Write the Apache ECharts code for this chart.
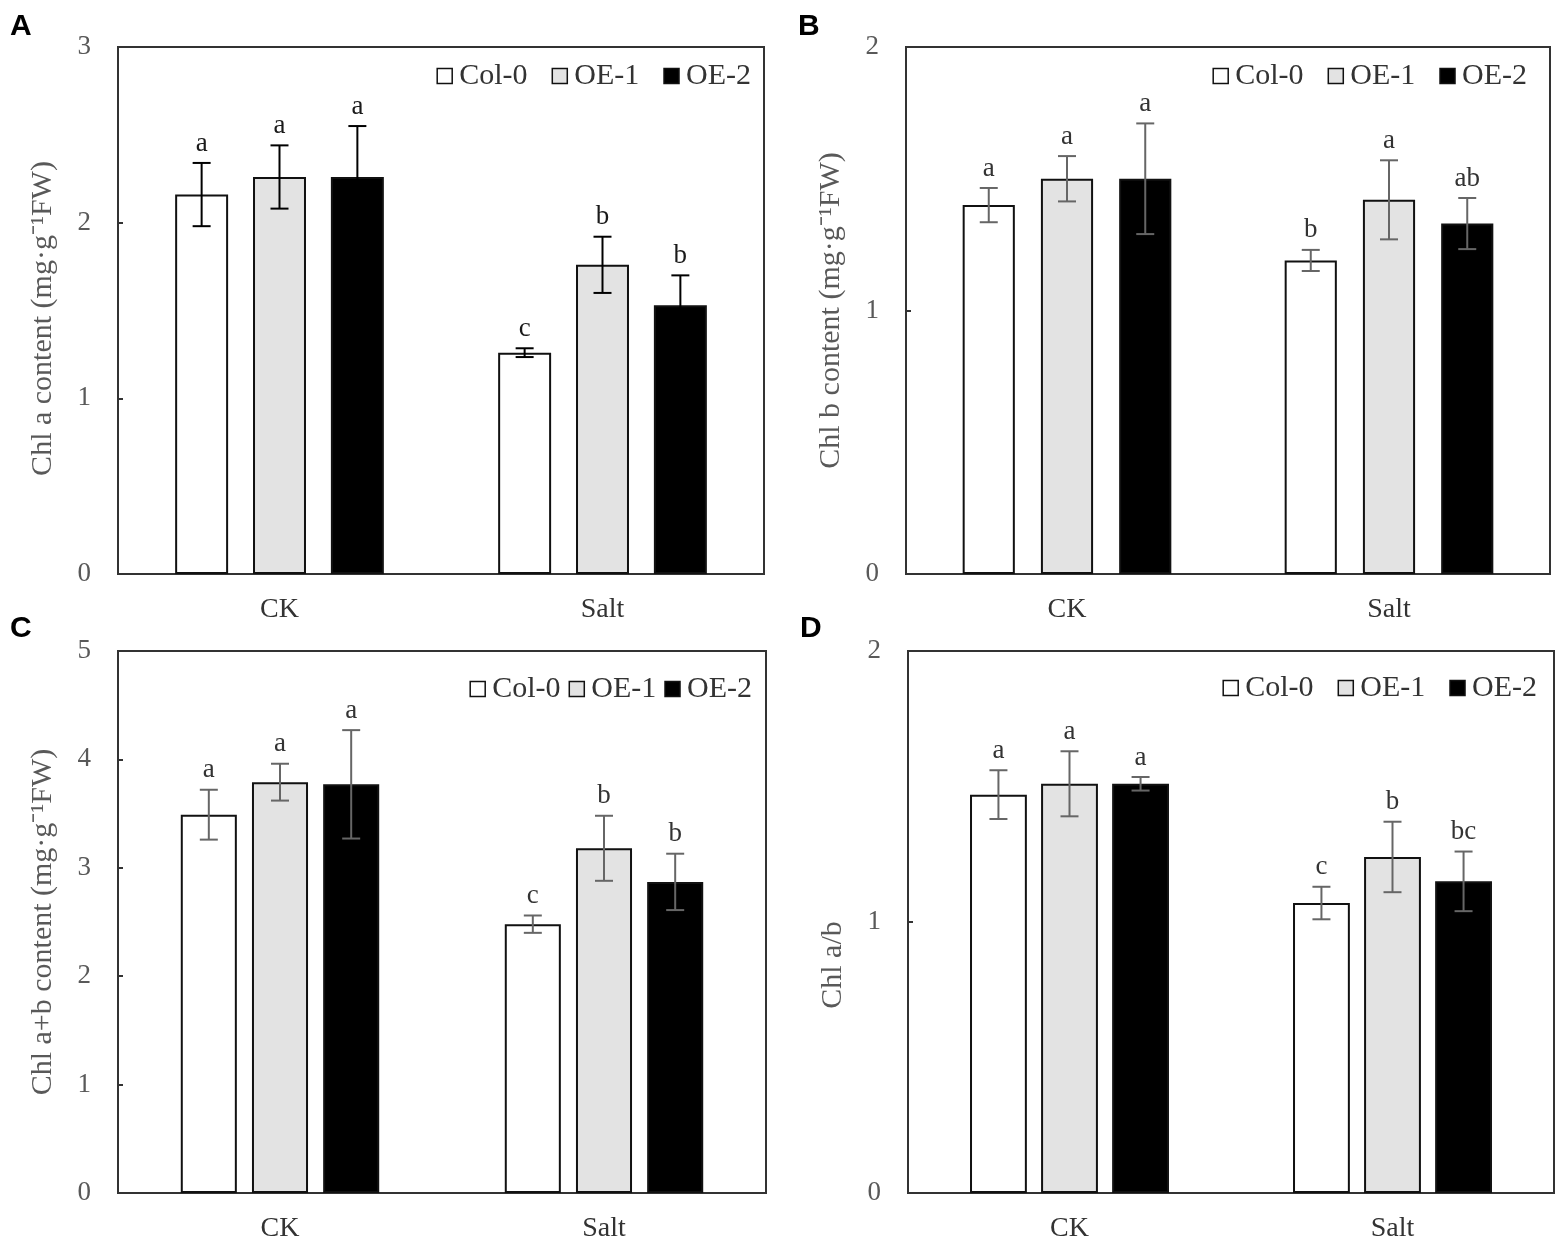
<!DOCTYPE html>
<html>
<head>
<meta charset="utf-8">
<script src="https://cdn.jsdelivr.net/npm/echarts@6/dist/echarts.min.js"></script>
<style>
html, body { margin: 0; padding: 0; background: #fff; }
#main { width: 1562px; height: 1246px; }
</style>
</head>
<body>
<div id="main"></div>
<script>
// 数据部分 每个面板 [Col-0, OE-1, OE-2] x [CK, Salt]
var categories = ['CK', 'Salt'];
var lines = ['Col-0', 'OE-1', 'OE-2'];

var chlAValues = [[2.16, 1.26], [2.26, 1.76], [2.26, 1.53]];
var chlAErrors = [[0.18, 0.025], [0.18, 0.16], [0.29, 0.17]];
var chlALetters = [['a', 'c'], ['a', 'b'], ['a', 'b']];
var chlATicks = [0, 1, 2, 3];

var chlBValues = [[1.40, 1.19], [1.50, 1.42], [1.50, 1.33]];
var chlBErrors = [[0.065, 0.04], [0.086, 0.15], [0.21, 0.097]];
var chlBLetters = [['a', 'b'], ['a', 'a'], ['a', 'ab']];
var chlBTicks = [0, 1, 2];

var chlABValues = [[3.49, 2.48], [3.79, 3.18], [3.77, 2.87]];
var chlABErrors = [[0.23, 0.08], [0.17, 0.30], [0.50, 0.26]];
var chlABLetters = [['a', 'c'], ['a', 'b'], ['a', 'b']];
var chlABTicks = [0, 1, 2, 3, 4, 5];

var ratioValues = [[1.47, 1.07], [1.51, 1.24], [1.51, 1.15]];
var ratioErrors = [[0.09, 0.06], [0.12, 0.13], [0.025, 0.11]];
var ratioLetters = [['a', 'c'], ['a', 'b'], ['a', 'bc']];
var ratioTicks = [0, 1, 2];

// 面板布局
var panels = [
    { tag: 'A', tagX: 10, tagY: 12, left: 118, top: 47, width: 646, height: 527,
      values: chlAValues, errors: chlAErrors, letters: chlALetters, ticks: chlATicks,
      yName: 'Chl a content (mg·g⁻¹FW)', namePad: [0, 16, 0, 0],
      barWidth: 16.4, barGap: 47, errColor: '#000', letterColor: '#1a1a1a',
      legendRight: 806, legendTop: 56, legendGap: 24 },
    { tag: 'B', tagX: 798, tagY: 12, left: 906, top: 47, width: 644, height: 527,
      values: chlBValues, errors: chlBErrors, letters: chlBLetters, ticks: chlBTicks,
      yName: 'Chl b content (mg·g⁻¹FW)', namePad: [0, 0, 0, 0],
      barWidth: 16.2, barGap: 50, errColor: '#666', letterColor: '#333',
      legendRight: 30, legendTop: 56, legendGap: 24 },
    { tag: 'C', tagX: 10, tagY: 614, left: 118, top: 651, width: 648, height: 542,
      values: chlABValues, errors: chlABErrors, letters: chlABLetters, ticks: chlABTicks,
      yName: 'Chl a+b content (mg·g⁻¹FW)', namePad: [0, 0, 0, 0],
      barWidth: 17.3, barGap: 27, errColor: '#666', letterColor: '#333',
      legendRight: 805, legendTop: 669, legendGap: 8 },
    { tag: 'D', tagX: 800, tagY: 614, left: 908, top: 651, width: 646, height: 542,
      values: ratioValues, errors: ratioErrors, letters: ratioLetters, ticks: ratioTicks,
      yName: 'Chl a/b', namePad: [0, 86, 0, 0],
      barWidth: 17.6, barGap: 25, errColor: '#666', letterColor: '#333',
      legendRight: 20, legendTop: 668, legendGap: 24 }
];

var fills = ['#ffffff', '#e3e3e3', '#000000'];
var serif = '"Liberation Serif", "Times New Roman", serif';

// 误差棒 + 显著性字母
function errorBarRenderer(p, li) {
    return function (params, api) {
        var ci = api.value(0);
        var v = api.value(1);
        var e = api.value(2);
        var band = api.size([1, 0])[0];
        var bw = band * p.barWidth / 100;
        var dx = (li - 1) * bw * (1 + p.barGap / 100);
        var hi = api.coord([ci, v + e]);
        var lo = api.coord([ci, v - e]);
        var x = hi[0] + dx;
        var half = 9;
        var style = { stroke: p.errColor, lineWidth: 2 };
        return {
            type: 'group',
            children: [
                { type: 'line', shape: { x1: x, y1: hi[1], x2: x, y2: lo[1] }, style: style },
                { type: 'line', shape: { x1: x - half, y1: hi[1], x2: x + half, y2: hi[1] }, style: style },
                { type: 'line', shape: { x1: x - half, y1: lo[1], x2: x + half, y2: lo[1] }, style: style },
                { type: 'text', x: x, y: hi[1] - 6,
                  style: { text: p.letters[li][params.dataIndex], fill: p.letterColor,
                           font: '27px ' + serif, align: 'center', verticalAlign: 'bottom' } }
            ]
        };
    };
}

var grid = [], xAxis = [], yAxis = [], series = [], legend = [], graphic = [];

panels.forEach(function (p, pi) {
    grid.push({ left: p.left, top: p.top, width: p.width, height: p.height,
        show: true, borderColor: '#333', borderWidth: 2 });

    xAxis.push({ type: 'category', gridIndex: pi, data: categories,
        axisTick: { show: false },
        axisLine: { lineStyle: { color: '#333', width: 2 } },
        axisLabel: { color: '#333', fontFamily: serif, fontSize: 28, margin: 22 } });

    yAxis.push({ type: 'value', gridIndex: pi, min: p.ticks[0], max: p.ticks[p.ticks.length - 1],
        interval: p.ticks[1] - p.ticks[0],
        splitLine: { show: false },
        axisLine: { show: true, lineStyle: { color: '#333', width: 2 } },
        axisTick: { show: true, inside: true, length: 5, lineStyle: { color: '#333', width: 2 } },
        axisLabel: { color: '#595959', fontFamily: serif, fontSize: 27, margin: 27 },
        name: p.yName, nameLocation: 'middle', nameGap: 60,
        nameTextStyle: { color: '#595959', fontFamily: serif, fontSize: 30, padding: p.namePad } });

    lines.forEach(function (name, li) {
        series.push({ type: 'bar', name: name, xAxisIndex: pi, yAxisIndex: pi,
            data: p.values[li], barWidth: p.barWidth + '%', barGap: p.barGap + '%',
            itemStyle: { color: fills[li], borderColor: '#111', borderWidth: 2 },
            silent: true, animation: false });
    });
    lines.forEach(function (name, li) {
        series.push({ type: 'custom', xAxisIndex: pi, yAxisIndex: pi, z: 5,
            data: p.values[li].map(function (v, ci) { return [ci, v, p.errors[li][ci]]; }),
            renderItem: errorBarRenderer(p, li), silent: true, animation: false });
    });

    legend.push({ data: lines, right: p.legendRight, top: p.legendTop, icon: 'rect',
        itemWidth: 15, itemHeight: 15, itemGap: p.legendGap, selectedMode: false,
        itemStyle: { borderWidth: 1.5 },
        textStyle: { color: '#333', fontFamily: serif, fontSize: 30, padding: [0, 0, 0, 2] } });

    graphic.push({ type: 'text', left: p.tagX, top: p.tagY,
        style: { text: p.tag, fill: '#000', font: 'bold 30px "Liberation Sans", Arial, sans-serif' } });
});

var myChart = echarts.init(document.getElementById('main'));
myChart.setOption({
    backgroundColor: '#fff',
    animation: false,
    grid: grid,
    xAxis: xAxis,
    yAxis: yAxis,
    legend: legend,
    graphic: graphic,
    series: series
});
</script>
</body>
</html>
